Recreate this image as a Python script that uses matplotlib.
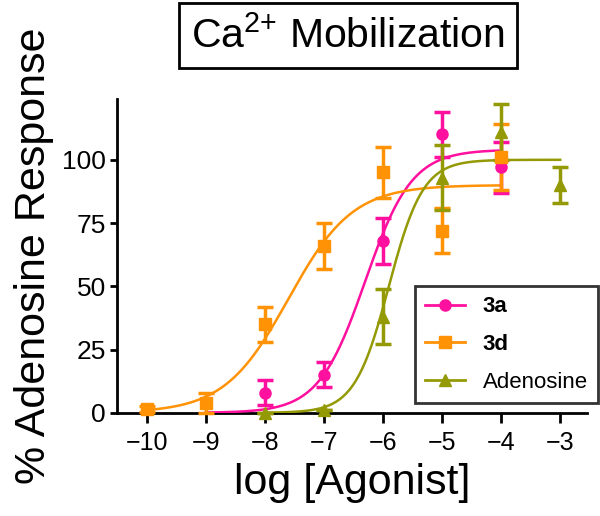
import numpy as np
import matplotlib.pyplot as plt

plt.rcParams["font.family"] = ["Liberation Sans", "DejaVu Sans"]
plt.rcParams["mathtext.default"] = "regular"

# measured points: log[agonist], mean response, error
x_3a = [-8, -7, -6, -5, -4]
y_3a = [8, 15, 68, 110, 97]
e_3a = [5, 5, 9, 9, 10]

x_3d = [-10, -9, -8, -7, -6, -5, -4]
y_3d = [1.5, 4, 35, 66, 95, 72, 101]
e_3d = [1, 4, 7, 9, 10, 9, 13]

x_ado = [-8, -7, -6, -5, -4, -3]
y_ado = [0, 1, 38, 93, 111, 90]
e_ado = [0, 0, 11, 13, 11, 7]

# fitted curve parameters: top, logEC50, hill slope, x range
fit_3a = (104, -6.3, 1.1, (-9, -4))
fit_3d = (90, -7.6, 0.8, (-10, -4))
fit_ado = (100, -5.9, 1.5, (-8, -3))

PINK = "#ff109e"
ORANGE = "#ff9205"
OLIVE = "#949a06"


def hill(x, top, ec50, h):
    return top / (1 + 10 ** ((ec50 - x) * h))


fig = plt.figure(figsize=(6, 5.16), dpi=100)
ax = fig.add_axes([0.195, 0.2, 0.783, 0.608])

series = [
    ("3a", x_3a, y_3a, e_3a, fit_3a, PINK, "o", "bold"),
    ("3d", x_3d, y_3d, e_3d, fit_3d, ORANGE, "s", "bold"),
    ("Adenosine", x_ado, y_ado, e_ado, fit_ado, OLIVE, "^", "normal"),
]

handles = []
for name, xs, ys, es, fit, col, mk, _ in series:
    top, ec50, h, (x0, x1) = fit
    xx = np.linspace(x0, x1, 300)
    ax.plot(xx, hill(xx, top, ec50, h), color=col, lw=1.8, zorder=3)
    ax.errorbar(xs, ys, yerr=es, fmt=mk, color=col, ms=8, elinewidth=2.5,
                capsize=6, capthick=2.5, zorder=4, clip_on=False)
    hd, = ax.plot([], [], color=col, marker=mk, ms=8, lw=2)
    handles.append(hd)

ax.set_xlim(-10.5, -2.55)
ax.set_ylim(0, 124)
ax.set_xticks(range(-10, -2))
ax.set_yticks([0, 25, 50, 75, 100])
for s in ["top", "right"]:
    ax.spines[s].set_visible(False)
for s in ["left", "bottom"]:
    ax.spines[s].set_linewidth(2)
ax.tick_params(axis="x", length=7, width=2, labelsize=18, pad=6)
ax.tick_params(axis="y", length=5, width=2, labelsize=19, pad=3)

ax.set_xlabel("log [Agonist]", fontsize=31, labelpad=6)
ax.set_ylabel("% Adenosine Response", fontsize=31, labelpad=6)

leg = ax.legend(handles, [s[0] for s in series], loc="lower right",
                bbox_to_anchor=(1.023, 0.032), borderaxespad=0, fontsize=16,
                frameon=True, fancybox=False, edgecolor="black",
                handlelength=1.8, borderpad=0.45, labelspacing=0.75,
                handletextpad=0.8)
leg.get_frame().set_linewidth(2)
for t, s in zip(leg.get_texts(), series):
    t.set_fontweight(s[7])

fig.text(0.58, 0.931, "Ca$^{2{+}}$ Mobilization", fontsize=29.5, ha="center",
         va="center",
         bbox=dict(boxstyle="square,pad=0.3", fc="white", ec="black", lw=2))

fig.savefig("out.png", dpi=100)
